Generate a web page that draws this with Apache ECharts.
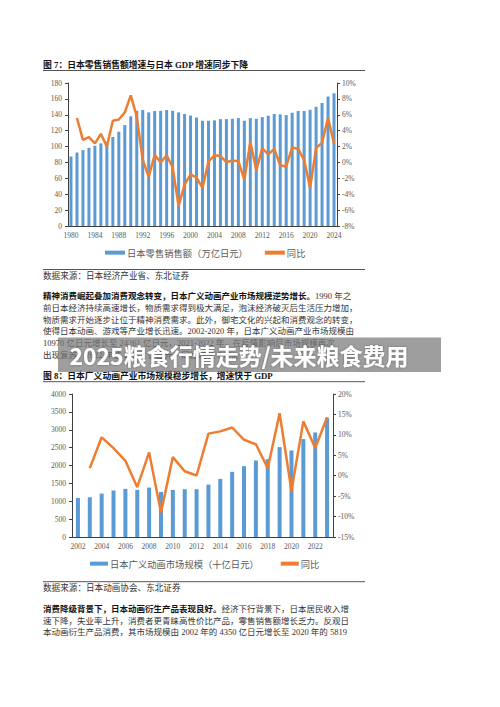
<!DOCTYPE html>
<html>
<head>
<meta charset="utf-8">
<script src="https://cdn.jsdelivr.net/npm/echarts@6/dist/echarts.min.js"></script>
<style>
html,body{margin:0;padding:0;background:#fff;}
#main{width:500px;height:707px;}
</style>
</head>
<body>
<div id="main"></div>
<script>
// ---------- Data: Figure 7 ----------
const years1 = ['1980','1981','1982','1983','1984','1985','1986','1987','1988','1989','1990','1991','1992','1993','1994','1995','1996','1997','1998','1999','2000','2001','2002','2003','2004','2005','2006','2007','2008','2009','2010','2011','2012','2013','2014','2015','2016','2017','2018','2019','2020','2021','2022','2023','2024'];
const retailSales = [87.5,92.5,95.5,98.4,101,104,106,112,118.6,127,138,145,146,143,144.7,145,146,145,143,141,139,136.6,132.5,132.5,133,134.5,134.5,135,135.8,132.5,135.8,135,137,138.8,141,140.5,139.6,142.6,144.7,144.7,146.3,150,154.8,163,167];
const retailYoY = [null,5.6,2.85,3.2,2.4,3.6,2.0,5.25,5.4,6.3,8.45,5.8,0.33,-1.8,0.96,0,0.9,-0.6,-5.5,-2.8,-1.5,-1.9,-3.2,0.1,0.9,0.8,0.03,0.25,0.16,-2.2,2.6,-1.0,1.8,1.0,1.7,-0.35,-0.5,1.9,1.7,0.3,-3.2,1.8,2.5,5.6,2.4];
const leftTicks1 = {min:0, max:180, interval:20};
const rightTicks1 = {min:-8, max:10, interval:2};

// ---------- Data: Figure 8 ----------
const years2 = ['2002','2003','2004','2005','2006','2007','2008','2009','2010','2011','2012','2013','2014','2015','2016','2017','2018','2019','2020','2021','2022','2023'];
const animeMarket = [1093,1112,1215,1299,1346,1318,1383,1262,1318,1336,1336,1467,1626,1822,1981,2140,2178,2514,2421,2738,2925,3336];
const animeYoY = [null,1.85,9.4,6.75,3.65,-2.8,5.7,-9.0,4.55,1.1,0.05,10.3,10.85,11.8,8.8,7.7,1.85,15.3,-3.7,13.3,6.8,14.3];
const leftTicks2 = {min:0, max:4000, interval:500};
const rightTicks2 = {min:-15, max:20, interval:5};

// ---------- Texts ----------
const title1 = '图 7：日本零售销售额增速与日本 GDP 增速同步下降';
const title2 = '图 8：日本广义动画产业市场规模稳步增长，增速快于 GDP';
const barName1 = '日本零售销售额（万亿日元）';
const barName2 = '日本广义动画市场规模（十亿日元）';
const lineName = '同比';
const source1 = '数据来源：日本经济产业省、东北证券';
const source2 = '数据来源：日本动画协会、东北证券';
const para1 = [
  ['精神消费崛起叠加消费观念转变，日本广义动画产业市场规模逆势增长。', '1990 年之'],
  ['', '前日本经济持续高速增长，物质需求得到极大满足，泡沫经济破灭后生活压力增加，'],
  ['', '物质需求开始逐步让位于精神消费需求。此外，御宅文化的兴起和消费观念的转变，'],
  ['', '使得日本动画、游戏等产业增长迅速。2002-2020 年，日本广义动画产业市场规模由'],
  ['', '10970 亿日元增长至 24261 亿日元，2021-2022 年，在疫情影响后市场规模再次'],
  ['', '出现复苏，2022 年达 29277 亿日元，同比增长 6.8%。']
];
const para2 = [
  ['消费降级背景下，日本动画衍生产品表现良好。', '经济下行背景下，日本居民收入增'],
  ['', '速下降，失业率上升，消费者更青睐高性价比产品，零售销售额增长乏力。反观日'],
  ['', '本动画衍生产品消费，其市场规模由 2002 年的 4350 亿日元增长至 2020 年的 5819']
];
const bannerText = '2025粮食行情走势/未来粮食费用';

// ---------- Styles ----------
const FONT = '"Liberation Serif", "Noto Sans CJK SC", serif';
const CJK = '"Noto Sans CJK SC", sans-serif';
const BLUE = '#5B9BD5';
const ORANGE = '#ED7D31';
const AXIS = '#404040';
const LABEL = '#595959';

function textEl(x, y, bold, normal, size, z) {
  return {
    type: 'text', x: x, y: y, z: z || 10,
    style: {
      text: (bold ? '{b|' + bold + '}' : '') + '{n|' + normal + '}',
      verticalAlign: 'middle',
      rich: {
        b: {fontFamily: FONT, fontSize: size, fontWeight: 'bold', fill: '#111', verticalAlign: 'middle'},
        n: {fontFamily: FONT, fontSize: size, fill: '#333', verticalAlign: 'middle'}
      }
    }
  };
}
function ruleEl(y) {
  return {type: 'line', z: 10, shape: {x1: 43, y1: y, x2: 365, y2: y}, style: {stroke: '#555', lineWidth: 1}};
}

const graphics = [];
graphics.push(textEl(43, 65, title1, '', 8.8));
graphics.push(ruleEl(70.5));
graphics.push(ruleEl(269.5));
graphics.push(textEl(43, 276, '', source1, 8.6));
const p1y = [296, 307.7, 319.5, 331.2, 343, 354.5];
para1.forEach((l, i) => graphics.push(textEl(43, p1y[i], l[0], l[1], 8.5)));
graphics.push(textEl(43, 376, title2, '', 8.8));
graphics.push(ruleEl(381.7));
graphics.push(ruleEl(581.7));
graphics.push(textEl(43, 587.5, '', source2, 8.6));
const p2y = [608.5, 620.5, 632.3];
para2.forEach((l, i) => graphics.push(textEl(43, p2y[i], l[0], l[1], 8.5)));
// banner overlay
graphics.push({type: 'rect', z: 50, shape: {x: 58, y: 337.5, width: 383, height: 34.5}, style: {fill: 'rgba(120,120,120,0.72)'}});
graphics.push({type: 'text', z: 51, x: 239, y: 355,
  style: {text: bannerText, fontFamily: CJK, fontSize: 23, fontWeight: 'bold', fill: '#fff',
    align: 'center', verticalAlign: 'middle', textShadowColor: 'rgba(0,0,0,0.35)', textShadowBlur: 2}});

function yAxisLeft(grid, t) {
  return {type: 'value', gridIndex: grid, min: t.min, max: t.max, interval: t.interval,
    axisLine: {show: true, lineStyle: {color: AXIS, width: 1}},
    axisTick: {show: true, length: 3, lineStyle: {color: AXIS}},
    splitLine: {show: false},
    axisLabel: {fontFamily: FONT, fontSize: 7.5, color: LABEL, margin: 6, formatter: v => String(v)}};
}
function yAxisRight(grid, t) {
  return {type: 'value', gridIndex: grid, position: 'right', min: t.min, max: t.max, interval: t.interval,
    axisLine: {show: true, lineStyle: {color: AXIS, width: 1}},
    axisTick: {show: true, length: 3, lineStyle: {color: AXIS}},
    splitLine: {show: false},
    axisLabel: {fontFamily: FONT, fontSize: 7.5, color: LABEL, margin: 5, formatter: v => v + '%'}};
}
function xAxisCat(grid, data, interval) {
  return {type: 'category', gridIndex: grid, data: data, boundaryGap: true,
    axisLine: {show: true, lineStyle: {color: AXIS, width: 1}},
    axisTick: {show: false},
    axisLabel: {interval: interval, fontFamily: FONT, fontSize: 7.5, color: LABEL, margin: 6}};
}

const option = {
  animation: false,
  backgroundColor: '#fff',
  grid: [
    {left: 68, top: 83, width: 269, height: 143, containLabel: false},
    {left: 72, top: 394, width: 261, height: 143, containLabel: false}
  ],
  xAxis: [xAxisCat(0, years1, 3), xAxisCat(1, years2, 1)],
  yAxis: [yAxisLeft(0, leftTicks1), yAxisRight(0, rightTicks1), yAxisLeft(1, leftTicks2), yAxisRight(1, rightTicks2)],
  legend: [
    {left: 105, top: 248, padding: 0, itemWidth: 20, itemHeight: 4, itemGap: 17,
      textStyle: {fontFamily: CJK, fontSize: 9.3, color: LABEL, padding: [0, 0, 0, -3]},
      data: [{name: barName1, icon: 'rect'}, {name: lineName, icon: 'rect'}]},
    {left: 90, top: 559, padding: 0, itemWidth: 18, itemHeight: 4, itemGap: 22,
      textStyle: {fontFamily: CJK, fontSize: 9.3, color: LABEL, padding: [0, 0, 0, -3]},
      data: [{name: barName2, icon: 'rect'}, {name: lineName, icon: 'rect'}]}
  ],
  series: [
    {name: barName1, type: 'bar', xAxisIndex: 0, yAxisIndex: 0, data: retailSales, barWidth: 3,
      itemStyle: {color: BLUE}},
    {name: lineName, type: 'line', xAxisIndex: 0, yAxisIndex: 1, data: retailYoY, symbol: 'none',
      lineStyle: {color: ORANGE, width: 2.5}, itemStyle: {color: ORANGE}},
    {name: barName2, type: 'bar', xAxisIndex: 1, yAxisIndex: 2, data: animeMarket, barWidth: 4,
      itemStyle: {color: BLUE}},
    {name: lineName, type: 'line', xAxisIndex: 1, yAxisIndex: 3, data: animeYoY, symbol: 'none',
      lineStyle: {color: ORANGE, width: 2.5}, itemStyle: {color: ORANGE}}
  ],
  graphic: graphics
};
const chart = echarts.init(document.getElementById('main'), null, {renderer: 'svg'});
chart.setOption(option);
</script>
</body>
</html>
